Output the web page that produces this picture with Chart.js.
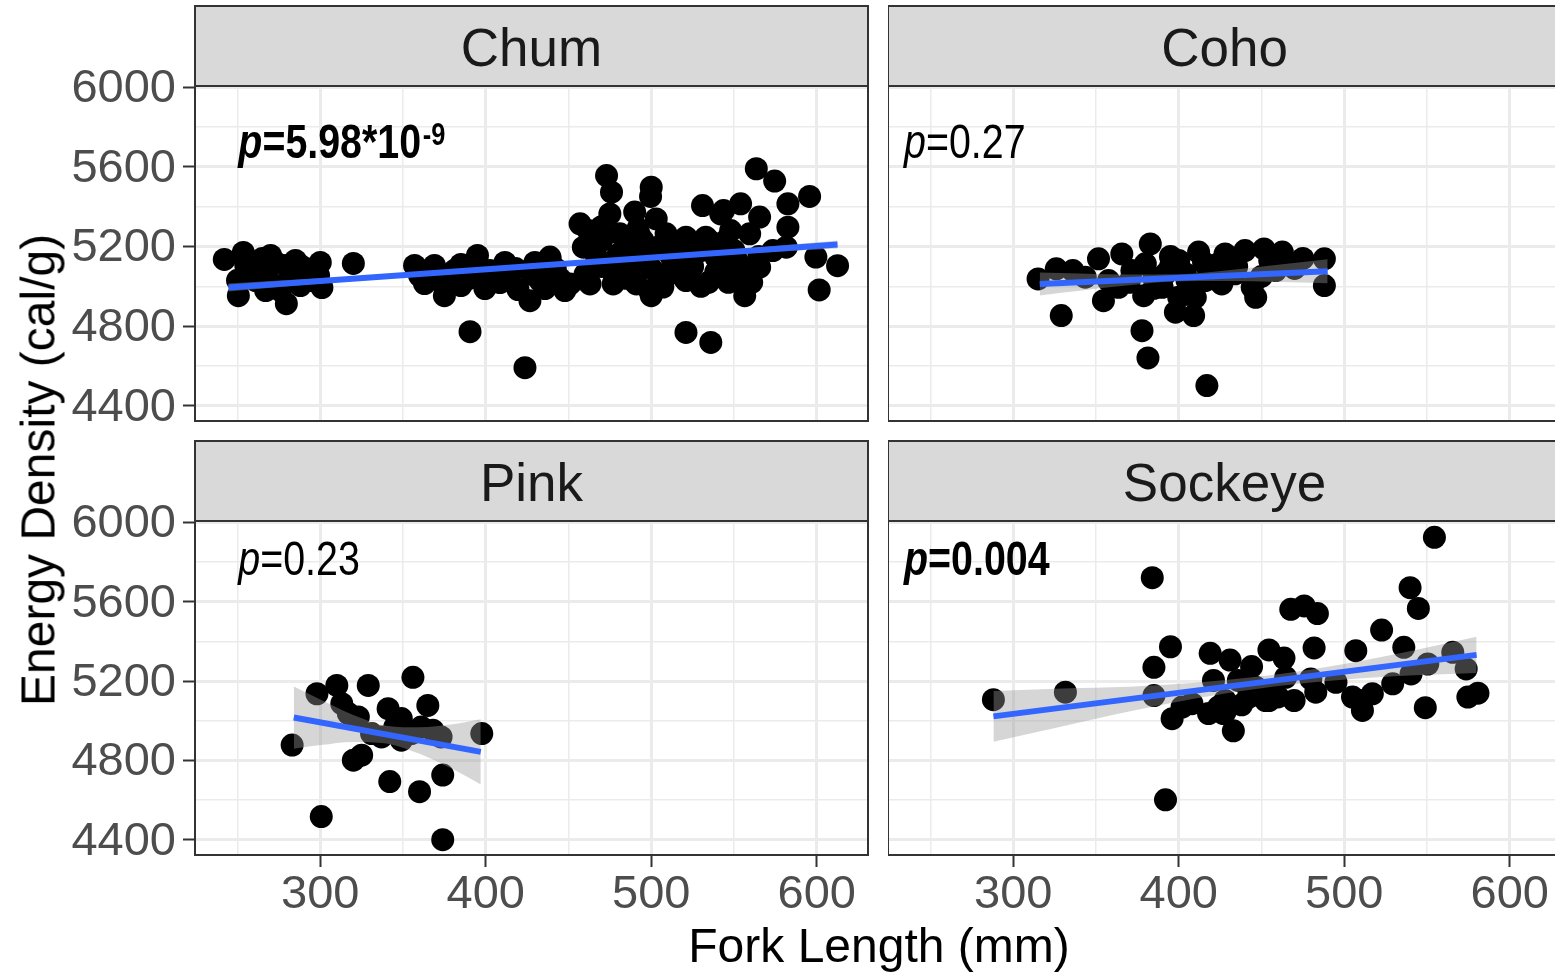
<!DOCTYPE html>
<html>
<head>
<meta charset="utf-8">
<script src="https://cdn.jsdelivr.net/npm/chart.js@4.4.1/dist/chart.umd.min.js"></script>
<style>
    html, body { margin: 0; padding: 0; background: #fff; overflow: hidden; }
    #wrap { position: relative; width: 1561px; height: 973px; }
    canvas { position: absolute; }
    .titre { position: absolute; font-family: "Liberation Sans", Arial, sans-serif; color: #000; white-space: nowrap; font-size: 48px; }
    #xtitle { left: 879px; top: 945px; transform: translate(-50%, -50%); }
    #ytitle { left: 38px; top: 470px; transform: translate(-50%, -50%) rotate(-90deg); }
</style>
</head>
<body>
<div id="wrap">
    <canvas id="chum" width="880" height="430" style="left:0;top:0"></canvas>
    <canvas id="coho" width="673" height="430" style="left:888px;top:0"></canvas>
    <canvas id="pink" width="880" height="543" style="left:0;top:430px"></canvas>
    <canvas id="sockeye" width="673" height="543" style="left:888px;top:430px"></canvas>
    <div class="titre" id="xtitle">Fork Length (mm)</div>
    <div class="titre" id="ytitle">Energy Density (cal/g)</div>
</div>
<script>
// Graduations
const xTicks = [300, 400, 500, 600];
const xMinor = [250, 350, 450, 550];
const yTicks = [4400, 4800, 5200, 5600, 6000];
const yMinor = [4600, 5000, 5400, 5800];

// Chum
const chumX = [242, 253.5, 250.5, 256, 261, 270, 273, 279.5, 279, 283, 288, 291, 294, 300, 301, 299, 264, 267, 276, 288, 320, 255, 273,
    260, 268, 282, 290, 296, 250, 285, 265,
    357, 363, 360, 369, 372, 375, 381, 385, 390.5, 395, 396.5, 399.5, 402.5, 408.6, 411.6, 414.7, 419.5, 423.7, 426.7, 429.7, 432.8, 437.6, 438.8, 435.8, 444.8, 447.8,
    365, 378, 390, 405, 418, 428, 442, 385,
    473, 476, 500, 499.6, 457, 475, 490, 503, 531, 542, 554, 565.5, 563.5, 574.6, 582.6, 595.7, 582.6, 459, 469, 481, 493, 509, 521, 533, 559.5, 573.5,
    599.5, 612.6, 601.5, 556.5, 438.8, 451, 463, 477, 500, 491, 507, 521, 534.6, 546.6, 560.7, 521, 536, 467, 483, 497, 511, 525, 539, 551, 563.5,
    487, 511, 539, 557, 477, 513, 499, 485, 515, 545, 462, 520, 550, 490, 581.6, 565.5, 543.7,
    470, 480, 490, 500, 505, 515, 525, 530, 535, 545, 555, 460, 470, 495, 520, 485, 530, 545, 565, 548, 505, 492, 470];
const chumY = [5135, 5170, 4953, 5079, 5029, 5155, 5120, 4913, 5105, 5054, 5004, 5079, 5029, 5120, 4994, 5054, 5069, 4979, 4979, 5105, 5115, 5105, 5004,
    5110, 5040, 5080, 5050, 5090, 5030, 5130, 5140,
    5105, 5014, 5054, 5105, 5029, 4953, 5079, 5004, 4772, 5155, 5090, 4989, 5079, 5019, 5120, 5054, 4984, 4591, 4928, 5120, 5029, 5054, 5140, 4989, 5039, 4979,
    5080, 5060, 5040, 5045, 5090, 5060, 5090, 5110,
    5557, 5473, 5498, 5452, 5314, 5364, 5373, 5339, 5406, 5364, 5415, 5348, 5591, 5529, 5415, 5452, 5297, 5197, 5247, 5264, 5255, 5264, 5247, 5247, 5264, 5180,
    5147, 5104, 4982, 4953, 5147, 5012, 5012, 5012, 4953, 5012, 4996, 5029, 5020, 5020, 5020, 4768, 4718, 5147, 5113, 5147, 5164, 5147, 5147, 5147, 5113,
    5079, 5063, 5071, 5079, 5071, 5113, 4979, 5220, 5210, 5230, 5280, 5190, 5180, 5180, 5197, 5096, 5381,
    5100, 5160, 5120, 5090, 5200, 5150, 5100, 5180, 5230, 5100, 5050, 5060, 5230, 5230, 5040, 5040, 5000, 5160, 5150, 5280, 5050, 5290, 5300];
const chumFitX = [244.5, 612.6];
const chumFitY = [4994, 5210];
const chumBandX = [244.5, 300, 350, 430, 500, 560, 612.6];
const chumBandHi = [5014, 5040, 5065, 5110, 5152, 5192, 5230];
const chumBandLo = [4974, 5014, 5047, 5096, 5136, 5166, 5190];

// Coho
const cohoX = [315, 326, 336, 329, 351.5, 365.6, 354.5, 363.6, 382.8, 379.8, 378.8, 377.8, 381.4, 392, 398, 400, 412, 409, 410, 417, 424, 426,
    440, 451.5, 462.6, 444.4, 446.5, 458.6, 488, 488, 404, 390, 371.7, 357.6, 416, 434, 343.5, 400, 428, 385, 420, 470, 455, 395,
    395, 405, 415, 435, 450, 465, 475, 385, 370];
const cohoY = [5037, 5088, 5079, 4853, 5138, 5163, 4928, 4995, 5213, 5113, 4953, 4777, 4640, 5063, 4870, 5130, 5172, 4853, 4945, 4501, 5113, 5012,
    5180, 5188, 5172, 4995, 4945, 5079, 5138, 5004, 5063, 4995, 5079, 5029, 5029, 5063, 5046, 4945, 5163, 5040, 5080, 5090, 5130, 5100,
    5150, 5030, 5120, 5100, 5050, 5110, 5140, 4990, 5020];
const cohoFitX = [316, 490];
const cohoFitY = [5012, 5076];
const cohoBandX = [316, 340, 370, 400, 430, 460, 490];
const cohoBandHi = [5070, 5064, 5059, 5061, 5081, 5108, 5136];
const cohoBandLo = [4954, 4978, 5005, 5025, 5027, 5022, 5016];

// Pink
const pinkX = [283, 298, 310, 329, 356, 313, 317, 323, 331, 341, 349, 345, 349, 361, 365, 368, 373, 397.6, 320, 325, 342, 360, 374, 300.6, 374, 337, 355];
const pinkY = [4877, 5136, 5178, 5178, 5219, 5086, 5036, 5019, 4935, 5061, 5011, 4968, 4902, 4968, 5077, 4952, 4918, 4935, 4801, 4826, 4693, 4642, 4726, 4517, 4400, 4918, 4935];
const pinkFitX = [284, 397];
const pinkFitY = [5016, 4843];
const pinkBandX = [284, 300, 320, 340, 360, 380, 397];
const pinkBandHi = [5173, 5107, 5029, 4975, 4967, 4982, 5008];
const pinkBandLo = [4859, 4877, 4893, 4885, 4833, 4756, 4678];

// Sockeye
const sockeyeX = [288, 331.5, 384, 395, 385, 385, 396, 392, 419, 402, 408, 431, 421, 424, 427, 433, 444, 454.5, 463.6, 436, 446.5, 456.5, 464.6,
    467.7, 475.8, 483.8, 481.8, 442.4, 452.5, 469.7, 482.8, 495, 507, 505, 479.8, 418, 428, 554.5, 539.8, 544.8, 522.6, 536, 565.6, 573.7,
    580.8, 574.7, 549, 550.5, 540.4, 529.3, 511, 511, 517, 454.5, 442.4, 428, 438, 448, 460];
const sockeyeY = [5106, 5144, 5721, 5373, 5269, 5127, 5010, 4601, 5340, 5069, 5086, 5306, 5203, 5069, 5036, 4949, 5273, 5357, 5316, 5203, 5169, 5136, 5219,
    5562, 5579, 5540, 5367, 5136, 5102, 5102, 5144, 5194, 5353, 5119, 5211, 5036, 5102, 5925, 5671, 5566, 5457, 5370, 5345, 5261,
    5139, 5119, 5066, 5286, 5236, 5186, 5102, 5052, 5136, 5102, 5119, 5044, 5080, 5150, 5120];
const sockeyeFitX = [288, 580];
const sockeyeFitY = [5022, 5332];
const sockeyeBandX = [288, 330, 370, 410, 450, 490, 530, 580];
const sockeyeBandHi = [5150, 5162, 5171, 5192, 5224, 5272, 5334, 5424];
const sockeyeBandLo = [4894, 4972, 5047, 5112, 5164, 5200, 5224, 5240];

const FONT = '"Liberation Sans", Arial, sans-serif';

function toXY(xs, ys) {
    return xs.map((x, i) => ({ x: x, y: ys[i] }));
}

// Cadre, bandeau et valeur de p
const panelDeco = {
    id: 'panelDeco',
    afterDraw(chart, args, opts) {
        const ctx = chart.ctx;
        const a = chart.chartArea;
        ctx.save();
        ctx.lineWidth = 2;
        ctx.strokeStyle = '#333333';
        ctx.strokeRect(a.left, a.top, a.right - a.left, a.bottom - a.top);

        ctx.fillStyle = '#D9D9D9';
        ctx.fillRect(a.left, a.top - 80, a.right - a.left, 80);
        ctx.strokeRect(a.left, a.top - 80, a.right - a.left, 80);
        ctx.fillStyle = '#1A1A1A';
        ctx.font = '53px ' + FONT;
        ctx.textAlign = 'center';
        ctx.textBaseline = 'middle';
        ctx.fillText(opts.name, (a.left + a.right) / 2, a.top - 35);

        // p en police étroite
        const p = opts.p;
        const px = chart.scales.x.getPixelForValue(p.at[0]);
        const py = chart.scales.y.getPixelForValue(p.at[1]);
        const w = p.bold ? 'bold ' : '';
        ctx.translate(px, py);
        ctx.scale(0.82, 1);
        ctx.fillStyle = '#000';
        ctx.textAlign = 'left';
        ctx.textBaseline = 'alphabetic';
        ctx.font = 'italic ' + w + '48px ' + FONT;
        ctx.fillText('p', 0, 0);
        let cx = ctx.measureText('p').width;
        ctx.font = w + '48px ' + FONT;
        ctx.fillText('=' + p.text, cx, 0);
        cx += ctx.measureText('=' + p.text).width;
        if (p.sup) {
            ctx.font = w + '31px ' + FONT;
            ctx.fillText(p.sup, cx + 2, -13);
        }
        ctx.restore();
    }
};

function isMajor(list, v) {
    return list.indexOf(v) !== -1;
}

function createPanel(cfg) {
    const xGrid = xMinor.concat(xTicks).sort((a, b) => a - b);
    const yGrid = yMinor.concat(yTicks).sort((a, b) => a - b);

    const gridOpts = (majors, showTicks) => ({
        color: '#EBEBEB',
        lineWidth: c => (c.tick && isMajor(majors, c.tick.value)) ? 3 : 1.5,
        drawTicks: showTicks,
        tickLength: 12,
        tickWidth: 2,
        tickColor: c => (c.tick && isMajor(majors, c.tick.value)) ? '#333333' : 'rgba(0,0,0,0)'
    });

    return new Chart(document.getElementById(cfg.canvas), {
        type: 'scatter',
        data: {
            datasets: [
                {
                    data: toXY(cfg.fitX, cfg.fitY),
                    showLine: true,
                    borderColor: '#3366FF',
                    borderWidth: 6,
                    pointRadius: 0,
                    fill: false
                },
                {
                    data: toXY(cfg.bandX, cfg.hi),
                    showLine: true,
                    borderWidth: 1,
                    borderColor: 'rgba(0,0,0,0)',
                    backgroundColor: 'rgba(153,153,153,0.4)',
                    cubicInterpolationMode: 'monotone',
                    pointRadius: 0,
                    fill: '+1'
                },
                {
                    data: toXY(cfg.bandX, cfg.lo),
                    showLine: true,
                    borderWidth: 1,
                    borderColor: 'rgba(0,0,0,0)',
                    cubicInterpolationMode: 'monotone',
                    pointRadius: 0,
                    fill: false
                },
                {
                    data: toXY(cfg.xs, cfg.ys),
                    pointRadius: 11.5,
                    pointBackgroundColor: '#000000',
                    pointBorderWidth: 0,
                    showLine: false
                }
            ]
        },
        options: {
            responsive: false,
            animation: false,
            devicePixelRatio: 1,
            events: [],
            layout: { autoPadding: false, padding: cfg.pad },
            plugins: {
                legend: { display: false },
                tooltip: { enabled: false },
                panelDeco: { name: cfg.name, p: cfg.p }
            },
            scales: {
                x: {
                    type: 'linear',
                    min: 224.3,
                    max: 631,
                    border: { display: false },
                    grid: gridOpts(xTicks, cfg.bottomAxis),
                    afterBuildTicks: s => { s.ticks = xGrid.map(v => ({ value: v })); },
                    afterFit: s => {
                        s.height = cfg.bottomAxis ? 118 : 0;
                        s.paddingLeft = 0;
                        s.paddingRight = 0;
                    },
                    ticks: {
                        display: cfg.bottomAxis,
                        autoSkip: false,
                        maxRotation: 0,
                        padding: 0,
                        color: '#4D4D4D',
                        font: { family: FONT, size: 47 },
                        callback: v => isMajor(xTicks, v) ? String(v) : ''
                    }
                },
                y: {
                    type: 'linear',
                    min: 4323,
                    max: 6007,
                    border: { display: false },
                    grid: gridOpts(yTicks, cfg.leftAxis),
                    afterBuildTicks: s => { s.ticks = yGrid.map(v => ({ value: v })); },
                    afterFit: s => {
                        s.width = cfg.leftAxis ? 195 : 0;
                        s.paddingTop = 0;
                        s.paddingBottom = 0;
                    },
                    ticks: {
                        display: cfg.leftAxis,
                        autoSkip: false,
                        padding: 7,
                        labelOffset: 2,
                        color: '#4D4D4D',
                        font: { family: FONT, size: 47 },
                        callback: v => isMajor(yTicks, v) ? String(v) : ''
                    }
                }
            }
        },
        plugins: [panelDeco]
    });
}

const panels = [
    {
        canvas: 'chum', name: 'Chum', xs: chumX, ys: chumY,
        fitX: chumFitX, fitY: chumFitY, bandX: chumBandX, hi: chumBandHi, lo: chumBandLo,
        p: { text: '5.98*10', sup: '-9', bold: true, at: [250.5, 5643] },
        leftAxis: true, bottomAxis: false,
        pad: { top: 86, right: 12, bottom: 9, left: 0 }
    },
    {
        canvas: 'coho', name: 'Coho', xs: cohoX, ys: cohoY,
        fitX: cohoFitX, fitY: cohoFitY, bandX: cohoBandX, hi: cohoBandHi, lo: cohoBandLo,
        p: { text: '0.27', sup: '', bold: false, at: [234, 5643] },
        leftAxis: false, bottomAxis: false,
        pad: { top: 86, right: 0, bottom: 9, left: 0 }
    },
    {
        canvas: 'pink', name: 'Pink', xs: pinkX, ys: pinkY,
        fitX: pinkFitX, fitY: pinkFitY, bandX: pinkBandX, hi: pinkBandHi, lo: pinkBandLo,
        p: { text: '0.23', sup: '', bold: false, at: [250.5, 5737] },
        leftAxis: true, bottomAxis: true,
        pad: { top: 91, right: 12, bottom: 0, left: 0 }
    },
    {
        canvas: 'sockeye', name: 'Sockeye', xs: sockeyeX, ys: sockeyeY,
        fitX: sockeyeFitX, fitY: sockeyeFitY, bandX: sockeyeBandX, hi: sockeyeBandHi, lo: sockeyeBandLo,
        p: { text: '0.004', sup: '', bold: true, at: [234, 5737] },
        leftAxis: false, bottomAxis: true,
        pad: { top: 91, right: 0, bottom: 0, left: 0 }
    }
];

panels.forEach(createPanel);
</script>
</body>
</html>
